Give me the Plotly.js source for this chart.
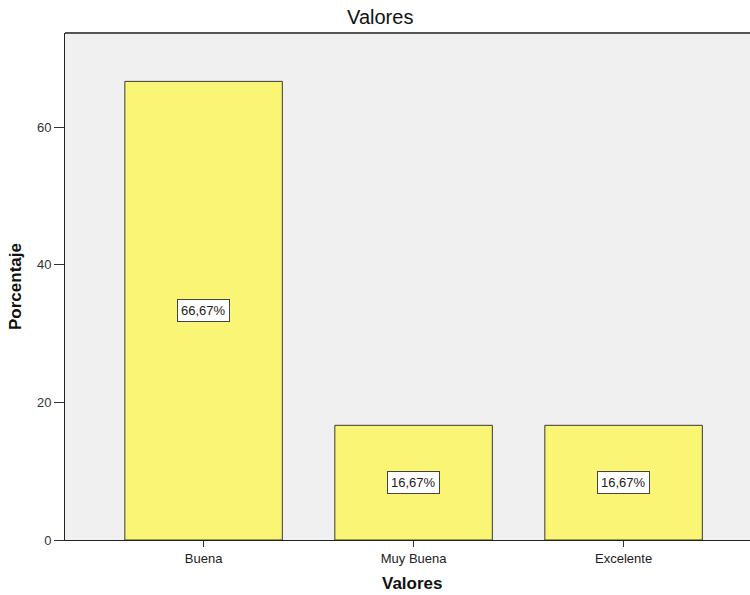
<!DOCTYPE html>
<html><head><meta charset="utf-8">
<script src="https://cdn.plot.ly/plotly-3.0.1.min.js"></script>
<style>html,body{margin:0;padding:0;overflow:hidden;background:#fff}</style>
</head><body>
<div id="chart" style="width:750px;height:595px"></div>
<script>
const categories = ["Buena", "Muy Buena", "Excelente"];
const percentages = [66.67, 16.67, 16.67];
const yTicks = [0, 20, 40, 60];

const barLabels = percentages.map(v => v.toFixed(2).replace('.', ',') + '%');
const FONT = 'Liberation Sans, Arial, sans-serif';

const trace = {
  type: 'bar',
  x: categories,
  y: percentages,
  width: 0.75,
  marker: {color: '#FAF575', line: {color: '#3a3a3a', width: 1}},
  hoverinfo: 'none'
};

const annotations = categories.map((c, i) => ({
  x: c, y: percentages[i] / 2, xref: 'x', yref: 'y',
  text: barLabels[i], showarrow: false,
  font: {family: FONT, size: 13, color: '#222'},
  bgcolor: '#ffffff', bordercolor: '#444', borderwidth: 1, borderpad: 3
}));

annotations.push({
  text: 'Valores', xref: 'paper', yref: 'paper', x: 0.508, y: 0, yshift: -43,
  xanchor: 'center', yanchor: 'middle', showarrow: false,
  font: {family: FONT, size: 17, color: '#111', weight: 'bold'}
});

const layout = {
  width: 750, height: 595,
  margin: {l: 65, r: 0, t: 33, b: 55},
  paper_bgcolor: '#ffffff',
  plot_bgcolor: '#F0F0F0',
  title: {text: 'Valores', x: 0.507, xanchor: 'center', y: 0.972, yanchor: 'middle',
          font: {family: FONT, size: 20, color: '#111'}},
  xaxis: {
    range: [-0.66, 2.602],
    showgrid: false, zeroline: false,
    showline: true, linecolor: '#222', linewidth: 1,
    ticks: 'outside', ticklen: 6, tickcolor: '#333',
    tickfont: {family: FONT, size: 13, color: '#222'}
  },
  yaxis: {
    range: [0, 73.7],
    tickvals: yTicks,
    showgrid: false, zeroline: false,
    showline: true, linecolor: '#222', linewidth: 1,
    ticks: 'outside', ticklen: 10, tickcolor: '#333',
    tickfont: {family: FONT, size: 13, color: '#333'},
    title: {text: 'Porcentaje', standoff: 10, font: {family: FONT, size: 17, color: '#111', weight: 'bold'}}
  },
  shapes: [{type: 'line', xref: 'paper', yref: 'paper', x0: 0, x1: 1, y0: 1, y1: 1,
            line: {color: '#555', width: 2}}],
  annotations: annotations,
  showlegend: false
};

Plotly.newPlot('chart', [trace], layout, {displayModeBar: false, staticPlot: true});
</script>
</body></html>
